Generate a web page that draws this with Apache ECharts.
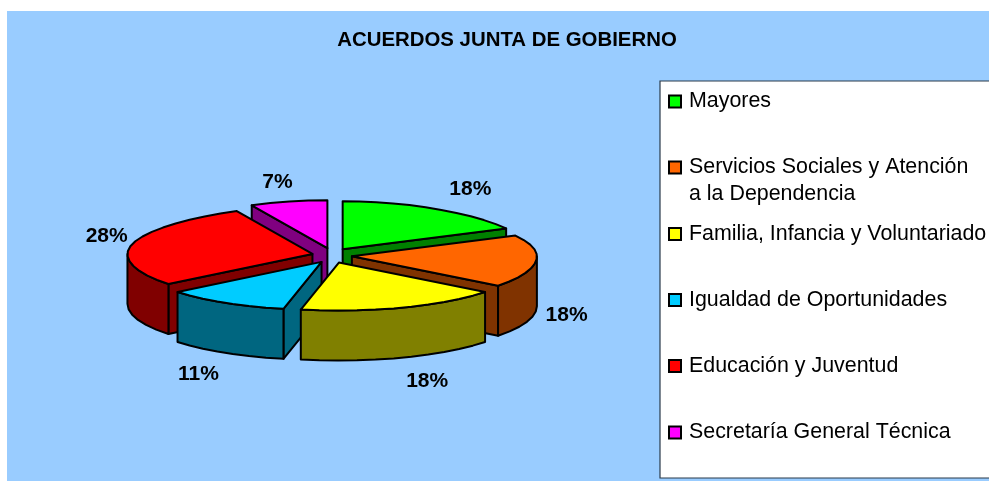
<!DOCTYPE html>
<html><head><meta charset="utf-8">
<style>html,body{margin:0;padding:0;background:#fff}#c{width:989px;height:481px}</style>
<script src="https://cdn.jsdelivr.net/npm/echarts@6/dist/echarts.min.js"></script>
</head><body><div id="c"></div>
<script>
const categories = ['Mayores','Servicios Sociales y Atención a la Dependencia','Familia, Infancia y Voluntariado','Igualdad de Oportunidades','Educación y Juventud','Secretaría General Técnica'];
const values = [17.9,17.6,17.8,10.9,28.4,7.4];
const topColors = ['#00FF00','#FF6600','#FFFF00','#00CCFF','#FF0000','#FF00FF'];
const wallColors = ['#008000','#803300','#808000','#006680','#800000','#800080'];
const drawOrder = [0,5,1,4,3,2];
const legendRowY = [101.5,167.5,234,300,366,432.5];
const labelNudge = [[5,-1],[-14,1],[9,3],[-3,3],[19,-3],[3,2]];

const G = {cx:332, cy:255.5, rx:185, ry:48, ex:20, ey:7.5, depth:50, lblX:230, lblY:70, persp:0.11};
const total = values.reduce((a,b)=>a+b,0);
let acc = 0;
const spans = values.map(v=>{const s=acc/total*360; acc+=v; return [s,acc/total*360];});
const rad = d=>d*Math.PI/180;

function renderSlice(i){
  return function(params, api){
    const [a0,a1] = spans[i];
    const mid = (a0+a1)/2;
    const ax = G.cx + G.ex*Math.sin(rad(mid));
    const ay = G.cy - G.ey*Math.cos(rad(mid));
    const rim = a=>{const c=Math.cos(rad(a));const s=c>0?1-G.persp*c*c:1;return [ax+G.rx*s*Math.sin(rad(a)), ay-G.ry*c];};
    const down = p=>[p[0],p[1]+G.depth];
    const arc = (from,to)=>{const n=Math.max(1,Math.round((to-from)/6)),o=[];for(let k=0;k<=n;k++)o.push(rim(from+(to-from)*k/n));return o;};
    const style = fill=>({fill, stroke:'#000', lineWidth:2, lineJoin:'round'});
    const kids = [];
    const poly = (points,fill)=>kids.push({type:'polygon',shape:{points},style:style(fill)});
    const wall = wallColors[i];
    const radial = a=>{const r=rim(a);poly([[ax,ay],r,down(r),[ax,ay+G.depth]],wall);};
    if(Math.sin(rad(a1))>0) radial(a1);
    if(Math.sin(rad(a0))<0) radial(a0);
    const w0=Math.max(a0,90), w1=Math.min(a1,270);
    if(w1>w0){const t=arc(w0,w1);poly(t.concat(t.map(down).reverse()),wall);}
    poly([[ax,ay]].concat(arc(a0,a1)),topColors[i]);
    const c=Math.cos(rad(mid));
    kids.push({type:'text',style:{
      text:Math.round(api.value(0)/total*100)+'%',
      x:ax+G.lblX*Math.sin(rad(mid))+labelNudge[i][0],
      y:ay-G.lblY*c+(c<-0.05?G.depth:0)+labelNudge[i][1],
      align:'center',verticalAlign:'middle',
      font:'bold 21px "Liberation Sans", Arial, sans-serif',fill:'#000'}});
    return {type:'group',children:kids};
  };
}
const chart = echarts.init(document.getElementById('c'));
chart.setOption({
  animation:false,
  title:{text:'ACUERDOS JUNTA DE GOBIERNO',left:507,top:30,textAlign:'center',
    textStyle:{fontFamily:'"Liberation Sans", Arial, sans-serif',fontWeight:'bold',fontSize:20.4,color:'#000'},padding:0},
  graphic:[
    {type:'rect',z:-2,shape:{x:7,y:11,width:982,height:470},style:{fill:'#99CCFF'}},
    {type:'rect',z:-1,shape:{x:660,y:81,width:335,height:397},style:{fill:'#fff',stroke:'#2b3a4a',lineWidth:1.2}},
    {type:'text',z:5,style:{text:'a la Dependencia',x:689,y:194,verticalAlign:'middle',
      font:'21.4px "Liberation Sans", Arial, sans-serif',fill:'#000'}}
  ],
  legend:categories.map((n,i)=>({
    data:[n],orient:'vertical',left:668,top:legendRowY[i]-13.5,padding:0,
    itemWidth:12,itemHeight:12,icon:'rect',selectedMode:false,
    itemStyle:{borderColor:'#000',borderWidth:2},
    formatter:name=>name.replace(' a la Dependencia',''),
    textStyle:{fontFamily:'"Liberation Sans", Arial, sans-serif',fontSize:21.4,color:'#000',padding:[0,0,3,3],lineHeight:24}
  })),
  series:categories.map((n,i)=>({
    type:'custom',name:n,coordinateSystem:'none',z:2+drawOrder.indexOf(i)/10,
    silent:true,clip:false,
    itemStyle:{color:topColors[i]},
    data:[[values[i]]],
    renderItem:renderSlice(i)
  }))
});
</script></body></html>
